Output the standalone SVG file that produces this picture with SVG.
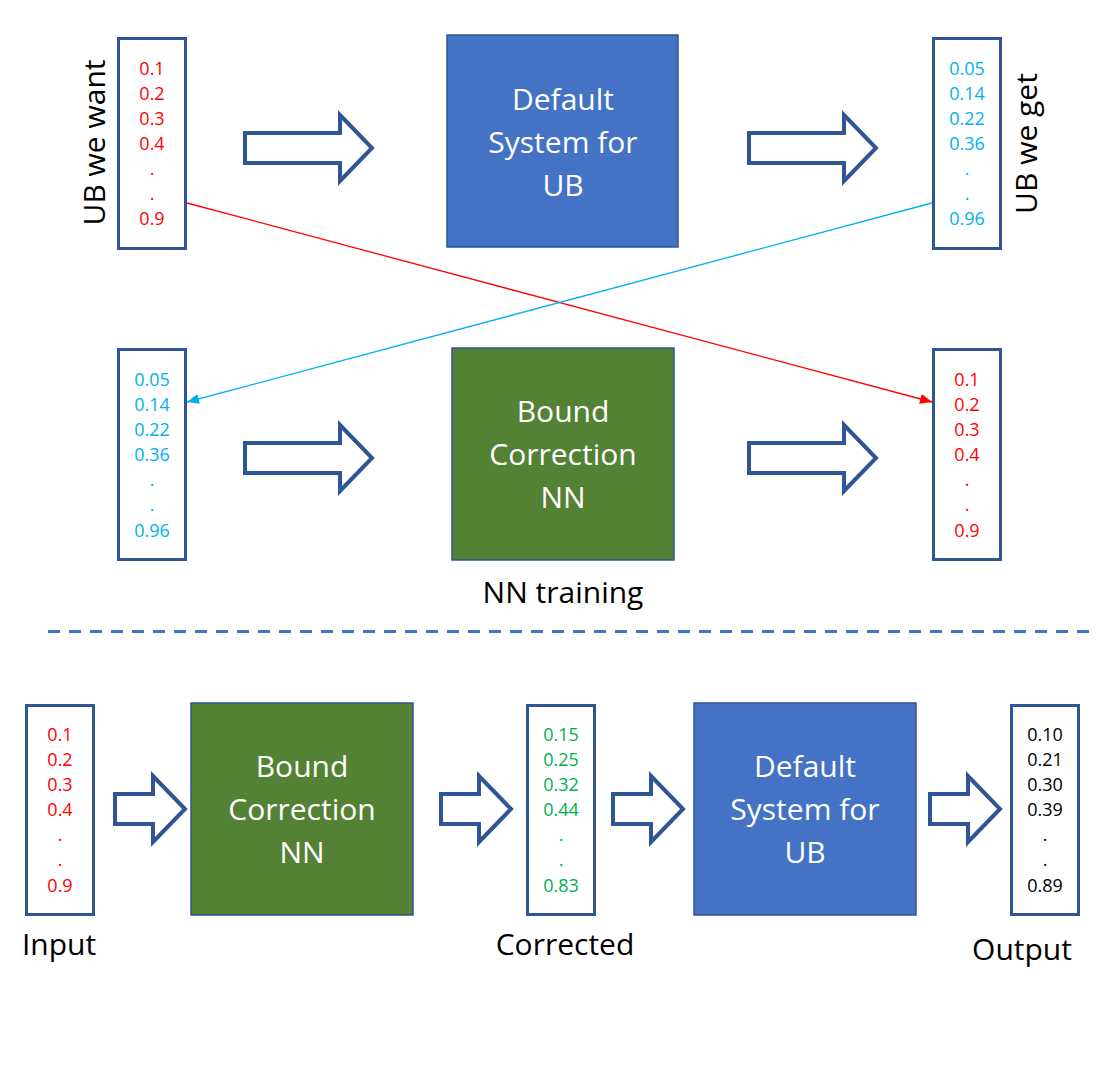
<svg xmlns="http://www.w3.org/2000/svg" xmlns:xlink="http://www.w3.org/1999/xlink" width="1102" height="1080" viewBox="0 0 1102 1080">
  <style>
    text { font-family: "Open Sans", "Noto Sans", "Liberation Sans", sans-serif; }
    .col { fill: #fff; stroke: #2F5597; stroke-width: 3; }
    .num { font-size: 18px; text-anchor: middle; }
    .red { fill: #FF0000; }
    .cyan { fill: #00B0F0; }
    .green { fill: #00B050; }
    .black { fill: #000; }
    .blue-box { fill: #4472C4; stroke: #2F5597; stroke-width: 1.5; }
    .green-box { fill: #548235; stroke: #2F5597; stroke-width: 1.5; }
    .box-text { font-size: 30px; fill: #fff; text-anchor: middle; }
    .label { font-size: 30px; fill: #000; text-anchor: middle; }
    .block { fill: #fff; stroke: #2F5597; stroke-width: 4; stroke-linejoin: miter; }
  </style>
  <defs>
    <path id="bigArrow" d="M0,-15 H95 V-33 L127,0 L95,33 V15 H0 Z"/>
    <path id="smallArrow" d="M0,-15 H38 V-33 L70,0 L38,33 V15 H0 Z"/>
    <marker id="headRed" markerUnits="userSpaceOnUse" markerWidth="14" markerHeight="12" refX="12" refY="5" orient="auto">
      <path d="M0,0 L12,5 L0,10 Z" fill="#FF0000"/>
    </marker>
    <marker id="headCyan" markerUnits="userSpaceOnUse" markerWidth="14" markerHeight="12" refX="12" refY="5" orient="auto">
      <path d="M0,0 L12,5 L0,10 Z" fill="#00B0F0"/>
    </marker>
  </defs>
  <rect width="1102" height="1080" fill="#fff"/>

  <!-- Top row -->
  <g id="ub-want">
    <rect class="col" x="118.5" y="38.5" width="67" height="210"/>
    <g class="num red">
      <text x="152" y="75">0.1</text>
      <text x="152" y="100">0.2</text>
      <text x="152" y="125">0.3</text>
      <text x="152" y="150">0.4</text>
      <text x="152" y="175">.</text>
      <text x="152" y="200">.</text>
      <text x="152" y="225">0.9</text>
    </g>
    <text class="label" transform="translate(105,142.5) rotate(-90)">UB we want</text>
  </g>

  <g id="default-system-top">
    <rect class="blue-box" x="447" y="35" width="231" height="212"/>
    <text class="box-text" x="563" y="110">Default</text>
    <text class="box-text" x="563" y="153">System for</text>
    <text class="box-text" x="563" y="196">UB</text>
  </g>

  <g id="ub-get">
    <rect class="col" x="933.5" y="38.5" width="67" height="210"/>
    <g class="num cyan">
      <text x="967" y="75">0.05</text>
      <text x="967" y="100">0.14</text>
      <text x="967" y="125">0.22</text>
      <text x="967" y="150">0.36</text>
      <text x="967" y="175">.</text>
      <text x="967" y="200">.</text>
      <text x="967" y="225">0.96</text>
    </g>
    <text class="label" transform="translate(1037,143.5) rotate(-90)">UB we get</text>
  </g>

  <!-- Middle row -->
  <g id="train-input">
    <rect class="col" x="118.5" y="349.5" width="67" height="210"/>
    <g class="num cyan">
      <text x="152" y="386">0.05</text>
      <text x="152" y="411">0.14</text>
      <text x="152" y="436">0.22</text>
      <text x="152" y="461">0.36</text>
      <text x="152" y="486">.</text>
      <text x="152" y="511">.</text>
      <text x="152" y="537">0.96</text>
    </g>
  </g>

  <g id="bound-correction-train">
    <rect class="green-box" x="452" y="348" width="222" height="212"/>
    <text class="box-text" x="563" y="422">Bound</text>
    <text class="box-text" x="563" y="465">Correction</text>
    <text class="box-text" x="563" y="508">NN</text>
    <text class="label" x="563" y="603">NN training</text>
  </g>

  <g id="train-target">
    <rect class="col" x="933.5" y="349.5" width="67" height="210"/>
    <g class="num red">
      <text x="967" y="386">0.1</text>
      <text x="967" y="411">0.2</text>
      <text x="967" y="436">0.3</text>
      <text x="967" y="461">0.4</text>
      <text x="967" y="486">.</text>
      <text x="967" y="511">.</text>
      <text x="967" y="537">0.9</text>
    </g>
  </g>

  <!-- Separator -->
  <line id="separator" x1="48" y1="631.5" x2="1090" y2="631.5" stroke="#4472C4" stroke-width="3" stroke-dasharray="12 9"/>

  <!-- Bottom row -->
  <g id="input">
    <rect class="col" x="26.5" y="705.5" width="67" height="209"/>
    <g class="num red">
      <text x="60" y="741">0.1</text>
      <text x="60" y="766">0.2</text>
      <text x="60" y="791">0.3</text>
      <text x="60" y="816">0.4</text>
      <text x="60" y="841">.</text>
      <text x="60" y="866">.</text>
      <text x="60" y="892">0.9</text>
    </g>
    <text class="label" x="59" y="955">Input</text>
  </g>

  <g id="bound-correction">
    <rect class="green-box" x="191" y="703" width="222" height="212"/>
    <text class="box-text" x="302" y="777">Bound</text>
    <text class="box-text" x="302" y="820">Correction</text>
    <text class="box-text" x="302" y="863">NN</text>
  </g>

  <g id="corrected">
    <rect class="col" x="527.5" y="705.5" width="67" height="209"/>
    <g class="num green">
      <text x="561" y="741">0.15</text>
      <text x="561" y="766">0.25</text>
      <text x="561" y="791">0.32</text>
      <text x="561" y="816">0.44</text>
      <text x="561" y="841">.</text>
      <text x="561" y="866">.</text>
      <text x="561" y="892">0.83</text>
    </g>
    <text class="label" x="565" y="955">Corrected</text>
  </g>

  <g id="default-system-bottom">
    <rect class="blue-box" x="694" y="703" width="222" height="212"/>
    <text class="box-text" x="805" y="777">Default</text>
    <text class="box-text" x="805" y="820">System for</text>
    <text class="box-text" x="805" y="863">UB</text>
  </g>

  <g id="output">
    <rect class="col" x="1011.5" y="705.5" width="67" height="209"/>
    <g class="num black">
      <text x="1045" y="741">0.10</text>
      <text x="1045" y="766">0.21</text>
      <text x="1045" y="791">0.30</text>
      <text x="1045" y="816">0.39</text>
      <text x="1045" y="841">.</text>
      <text x="1045" y="866">.</text>
      <text x="1045" y="892">0.89</text>
    </g>
    <text class="label" x="1022" y="960">Output</text>
  </g>

  <!-- Connectors -->
  <g id="connectors">
    <use xlink:href="#bigArrow" href="#bigArrow" class="block" transform="translate(245,148)"/>
    <use xlink:href="#bigArrow" href="#bigArrow" class="block" transform="translate(749,148)"/>
    <use xlink:href="#bigArrow" href="#bigArrow" class="block" transform="translate(245,458)"/>
    <use xlink:href="#bigArrow" href="#bigArrow" class="block" transform="translate(749,458)"/>
    <use xlink:href="#smallArrow" href="#smallArrow" class="block" transform="translate(115,809)"/>
    <use xlink:href="#smallArrow" href="#smallArrow" class="block" transform="translate(441,809)"/>
    <use xlink:href="#smallArrow" href="#smallArrow" class="block" transform="translate(613,809)"/>
    <use xlink:href="#smallArrow" href="#smallArrow" class="block" transform="translate(930,809)"/>
    <line x1="187" y1="203" x2="932" y2="402" stroke="#FF0000" stroke-width="1.3" marker-end="url(#headRed)"/>
    <line x1="932" y1="203" x2="187" y2="402" stroke="#00B0F0" stroke-width="1.3" marker-end="url(#headCyan)"/>
  </g>
</svg>
